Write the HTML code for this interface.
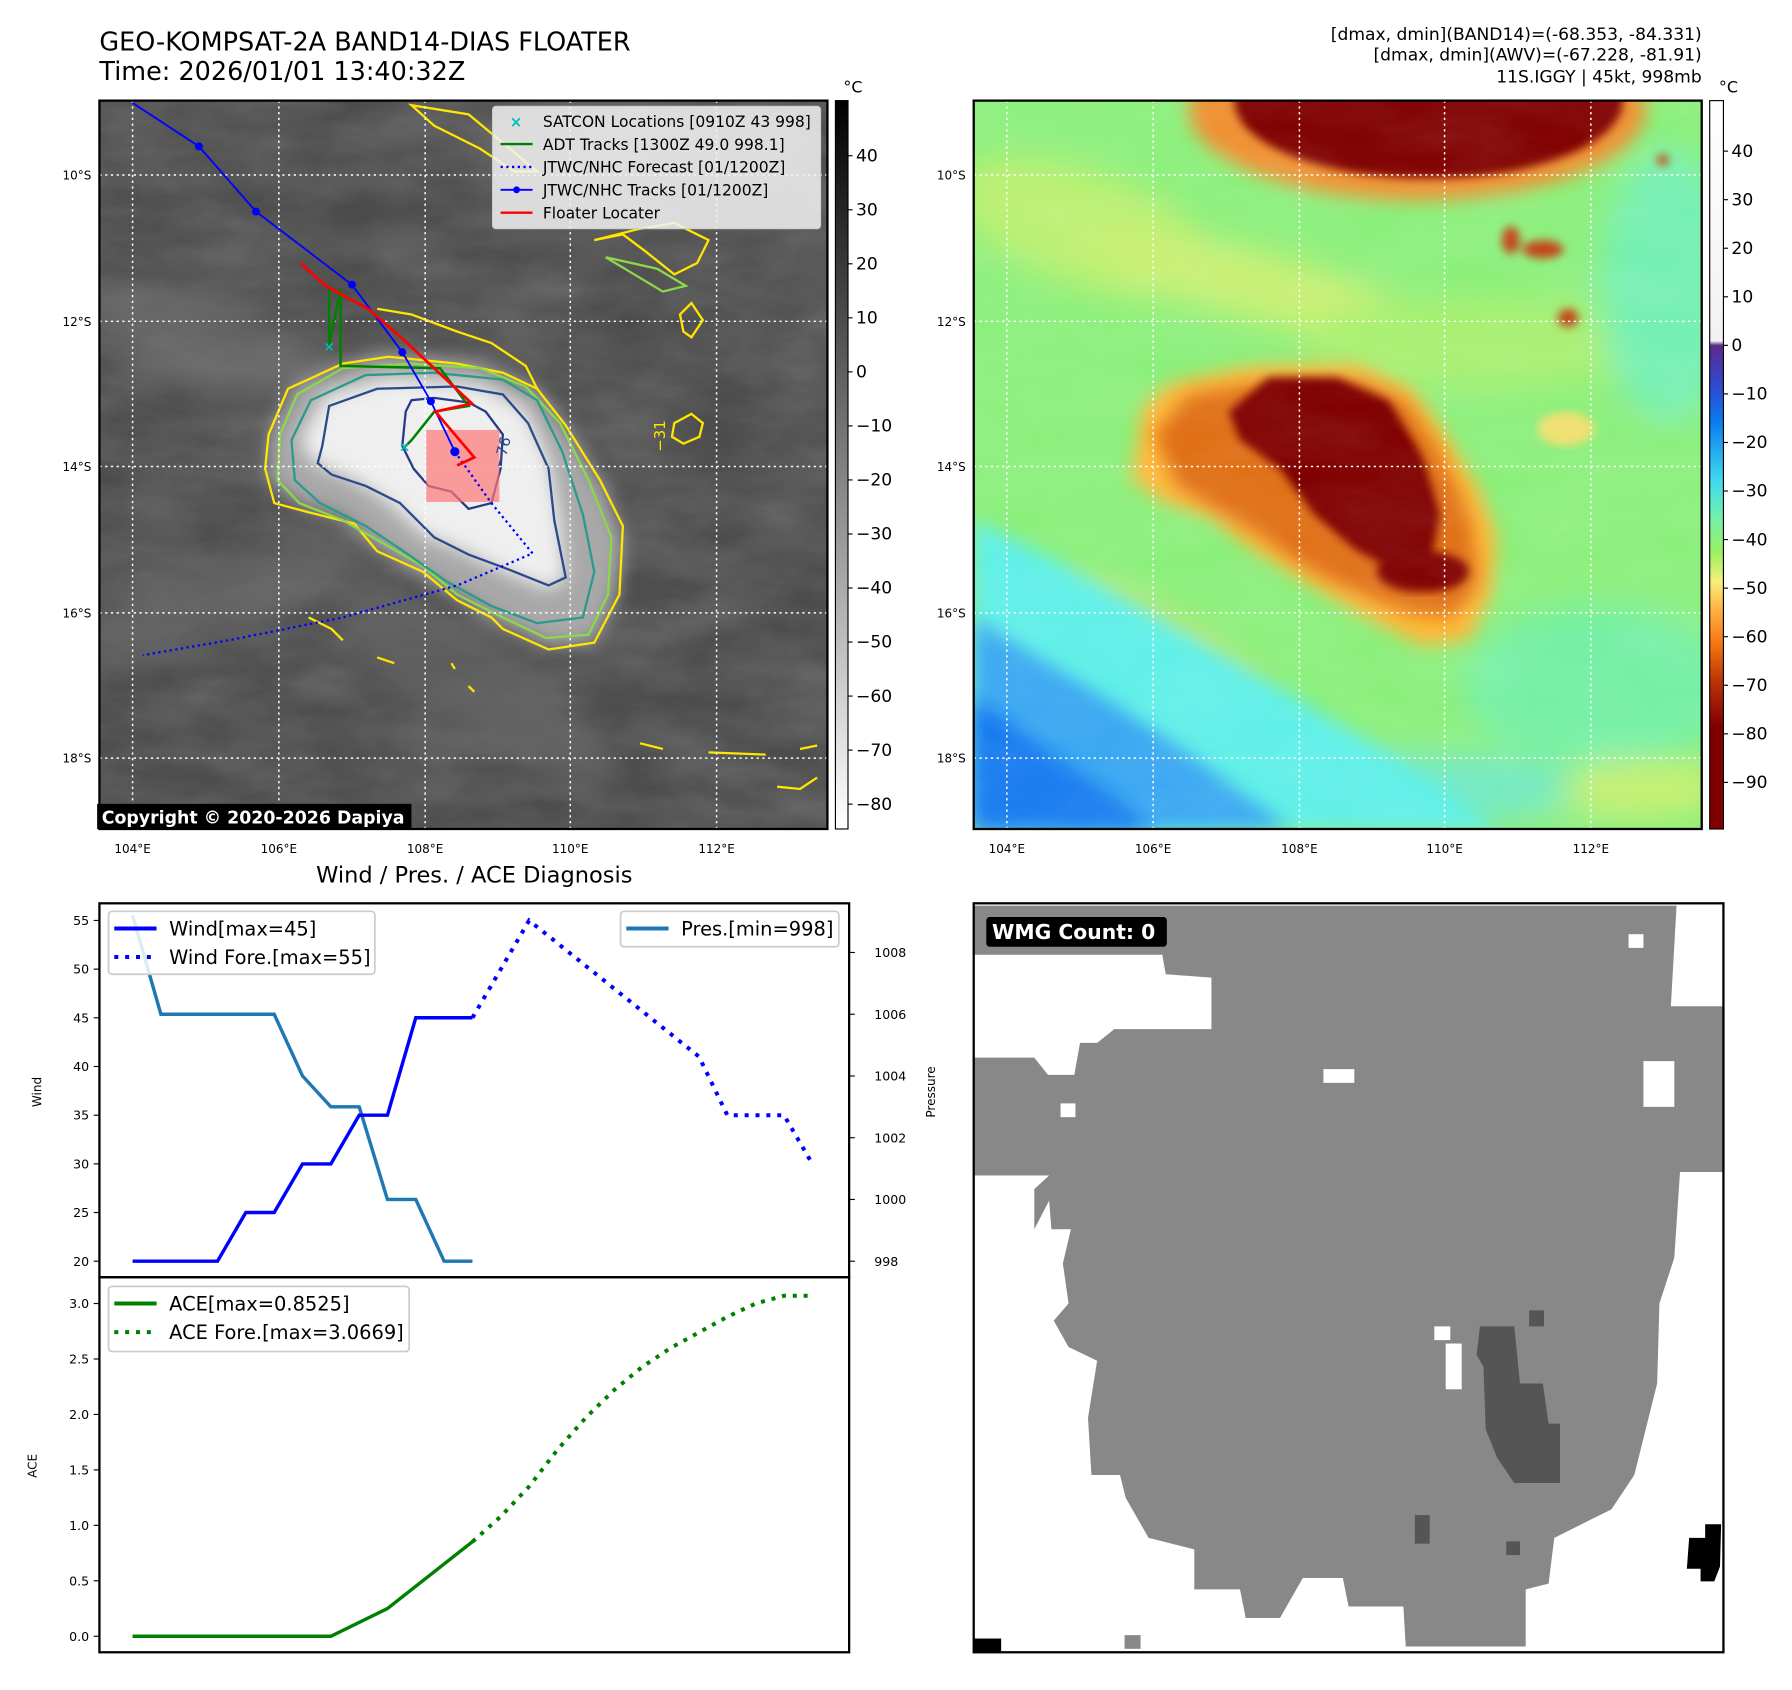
<!DOCTYPE html>
<html><head><meta charset="utf-8"><style>
html,body{margin:0;padding:0;background:#fff;}
svg{display:block;font-family:"DejaVu Sans","Liberation Sans",sans-serif;}
</style></head><body>
<svg id="root" width="1792" height="1690" viewBox="0 0 1568 1478" preserveAspectRatio="none" xmlns="http://www.w3.org/2000/svg">
<defs>
<filter id="b8"><feGaussianBlur stdDeviation="8"/></filter>
<filter id="b14"><feGaussianBlur stdDeviation="14"/></filter>
<filter id="b4"><feGaussianBlur stdDeviation="4"/></filter>
<filter id="noise" x="0" y="0" width="100%" height="100%"><feTurbulence type="fractalNoise" baseFrequency="0.012 0.03" numOctaves="4" seed="3"/><feColorMatrix type="matrix" values="0 0 0 0 1  0 0 0 0 1  0 0 0 0 1  0.6 0 0 0 -0.1"/></filter>
<clipPath id="clipL"><rect x="87" y="88" width="637" height="637"/></clipPath>
<clipPath id="clipR"><rect x="852" y="88" width="637" height="637"/></clipPath>
<linearGradient id="cbGray" x1="0" y1="0" x2="0" y2="1"><stop offset="0" stop-color="#000"/><stop offset="1" stop-color="#fff"/></linearGradient>
<linearGradient id="cbJet" x1="0" y1="0" x2="0" y2="1">
<stop offset="0" stop-color="#ffffff"/><stop offset="0.33" stop-color="#f2f2f2"/>
<stop offset="0.336" stop-color="#5b2a8c"/><stop offset="0.40" stop-color="#2a50d8"/>
<stop offset="0.44" stop-color="#0a7cf0"/><stop offset="0.52" stop-color="#3fd8f0"/>
<stop offset="0.57" stop-color="#70f0b0"/><stop offset="0.62" stop-color="#9cf060"/>
<stop offset="0.66" stop-color="#f6f07a"/><stop offset="0.70" stop-color="#ffb040"/>
<stop offset="0.75" stop-color="#f07010"/><stop offset="0.80" stop-color="#b83008"/>
<stop offset="0.86" stop-color="#800000"/><stop offset="1" stop-color="#800000"/></linearGradient>
</defs>

<text x="87" y="44" font-size="22.3">GEO-KOMPSAT-2A BAND14-DIAS FLOATER</text>
<text x="87" y="70" font-size="22.3">Time: 2026/01/01 13:40:32Z</text>
<g font-size="15" text-anchor="end">
<text x="1489" y="35">[dmax, dmin](BAND14)=(-68.353, -84.331)</text>
<text x="1489" y="53">[dmax, dmin](AWV)=(-67.228, -81.91)</text>
<text x="1489" y="72">11S.IGGY | 45kt, 998mb</text>
</g>

<!-- LEFT MAP -->
<g clip-path="url(#clipL)">
<rect x="87" y="88" width="637" height="637" fill="#4b4b4b"/>
<rect x="87" y="88" width="637" height="637" filter="url(#noise)" opacity="0.35"/>
<g filter="url(#b14)" opacity="0.6">
<ellipse cx="180" cy="300" rx="120" ry="40" fill="#777" transform="rotate(20 180 300)"/>
<ellipse cx="200" cy="520" rx="140" ry="35" fill="#6e6e6e" transform="rotate(-20 200 520)"/>
<ellipse cx="560" cy="130" rx="150" ry="40" fill="#777"/>
<ellipse cx="420" cy="600" rx="140" ry="40" fill="#6b6b6b" transform="rotate(35 420 600)"/>
</g>
<path d="M235,380 L260,335 L330,310 L420,318 L470,340 L500,380 L530,430 L545,470 L540,520 L520,562 L480,565 L430,540 L380,510 L330,480 L300,452 L260,440 L235,420 Z" fill="#a8a8a8" filter="url(#b8)"/>
<path d="M262,385 L285,345 L340,330 L420,336 L460,358 L480,400 L490,450 L495,508 L478,515 L440,500 L400,480 L370,468 L340,440 L310,420 L275,405 Z" fill="#efefef" filter="url(#b8)"/>
<g fill="none" stroke-width="2">
<path d="M235,380 L252,340 L300,318 L340,312 L400,318 L440,326 L470,340 L495,372 L525,420 L545,460 L542,520 L520,562 L480,568 L440,550 L430,540 L400,525 L370,500 L330,482 L310,458 L270,448 L240,440 L232,410 Z" stroke="#ffe600"/>
<path d="M245,380 L260,345 L300,322 L360,318 L420,322 L460,338 L490,370 L515,420 L535,470 L532,520 L515,555 L478,558 L440,540 L400,520 L370,495 L335,475 L300,455 L262,440 L243,420 Z" stroke="#8cd84a"/>
<path d="M255,385 L272,350 L320,328 L380,326 L440,332 L470,350 L492,395 L510,450 L520,500 L510,540 L470,545 L430,530 L390,508 L350,480 L320,460 L280,440 L258,420 Z" stroke="#2a9a8a"/>
<path d="M282,390 L288,355 L330,340 L400,338 L440,345 L462,370 L480,410 L485,455 L495,505 L480,512 L445,498 L410,485 L380,470 L350,440 L320,425 L290,415 L278,405 Z" stroke="#2a4a8a"/>
<path d="M355,360 L360,350 L380,348 L410,352 L425,360 L440,380 L438,410 L430,440 L410,445 L395,430 L375,425 L362,410 L352,390 Z" stroke="#2a3a88"/>
<path d="M360,92 L380,110 L420,130 L450,150 L470,150 L440,125 L410,100 Z" stroke="#ffe600"/>
<path d="M520,210 L545,205 L565,220 L590,240 L610,230 L620,210 L590,195 L560,200 Z" stroke="#ffe600"/>
<path d="M530,225 L555,240 L580,255 L600,250 L575,235 Z" stroke="#8cd84a"/>
<path d="M595,275 L605,265 L615,280 L605,295 L598,290 Z" stroke="#ffe600"/>
<path d="M590,370 L605,362 L615,370 L612,382 L598,388 L588,382 Z" stroke="#ffe600"/>
<path d="M330,270 L360,275 L400,290 L430,300 L460,320 L470,340" stroke="#ffe600"/>
<path d="M560,650 L580,655 M620,658 L670,660 M680,688 L700,690 L715,680 M700,655 L715,652 M270,540 L290,550 L300,560 M330,575 L345,580 M410,600 L415,605 M395,580 L398,585" stroke="#ffe600"/>
</g>
<g stroke="#fff" stroke-width="1.3" stroke-dasharray="2,3" fill="none">
<path d="M116,88V725M244,88V725M372,88V725M499,88V725M627,88V725"/>
<path d="M87,153H724M87,281H724M87,408H724M87,536H724M87,663H724"/>
</g>
<rect x="373" y="376" width="64" height="63" fill="#f77" opacity="0.7"/>
<polyline points="398,395 430,440 466,484 400,512 300,540 200,560 125,573" fill="none" stroke="#0000ff" stroke-width="2" stroke-dasharray="2,3"/>
<polyline points="288,253 288,302 298,253 298,320 385,322 410,355 380,360 360,385 353,392" fill="none" stroke="#008000" stroke-width="2.2"/>
<polyline points="116,90 174,128 224,185 308,249 352,308 377,351 398,395" fill="none" stroke="#0000ff" stroke-width="1.6"/>
<g fill="#0000ff"><circle cx="174" cy="128" r="3.5"/><circle cx="224" cy="185" r="3.5"/><circle cx="308" cy="249" r="3.5"/><circle cx="352" cy="308" r="3.5"/><circle cx="377" cy="351" r="3.5"/><circle cx="398" cy="395" r="4"/></g>
<polyline points="263,230 285,250 322,270 352,296 413,353 381,360 415,400 400,407" fill="none" stroke="#ff0000" stroke-width="2.4"/>
<g fill="#00bcbc" font-size="12" font-weight="bold"><text x="349" y="395">×</text><text x="283" y="307">×</text></g>
<text x="582" y="395" fill="#ffe600" font-size="13" transform="rotate(-90 582 395)">−31</text>
<text x="440" y="410" fill="#2a4a8a" font-size="13" transform="rotate(-75 440 410)">−76</text>
</g>
<rect x="87" y="88" width="637" height="637" fill="none" stroke="#000" stroke-width="2"/>
<rect x="85" y="703" width="275" height="22" fill="#000"/>
<text x="89" y="720" fill="#fff" font-size="15.2" font-weight="bold">Copyright © 2020-2026 Dapiya</text>
<g font-size="13.6">
<rect x="431" y="93" width="287" height="107" rx="3" fill="#f2f2f2" fill-opacity="0.85" stroke="#ccc"/>
<text x="446" y="111" fill="#00bcbc" font-weight="bold" font-size="13">×</text><text x="475" y="111">SATCON Locations [0910Z 43 998]</text>
<line x1="438" y1="126" x2="466" y2="126" stroke="#008000" stroke-width="2"/><text x="475" y="131">ADT Tracks [1300Z 49.0 998.1]</text>
<line x1="438" y1="146" x2="466" y2="146" stroke="#0000ff" stroke-width="2" stroke-dasharray="2,3"/><text x="475" y="151">JTWC/NHC Forecast [01/1200Z]</text>
<line x1="438" y1="166" x2="466" y2="166" stroke="#0000ff" stroke-width="1.6"/><circle cx="452" cy="166" r="3" fill="#0000ff"/><text x="475" y="171">JTWC/NHC Tracks [01/1200Z]</text>
<line x1="438" y1="186" x2="466" y2="186" stroke="#ff0000" stroke-width="2"/><text x="475" y="191">Floater Locater</text>
</g>
<g font-size="10.5">
<g text-anchor="end"><text x="80" y="157">10°S</text><text x="80" y="285">12°S</text><text x="80" y="412">14°S</text><text x="80" y="540">16°S</text><text x="80" y="667">18°S</text></g>
<g text-anchor="middle"><text x="116" y="746">104°E</text><text x="244" y="746">106°E</text><text x="372" y="746">108°E</text><text x="499" y="746">110°E</text><text x="627" y="746">112°E</text></g>
</g>
<rect x="731" y="88" width="11" height="637" fill="url(#cbGray)" stroke="#000" stroke-width="1"/>
<text x="738" y="81" font-size="14">°C</text>
<g id="cbTicksL"></g>

<!-- RIGHT MAP -->
<g clip-path="url(#clipR)">
<rect x="852" y="88" width="637" height="637" fill="#8cf07c"/>
<g filter="url(#b14)" opacity="0.8">
<ellipse cx="950" cy="200" rx="120" ry="50" fill="#c8f070" transform="rotate(20 950 200)"/>
<ellipse cx="1100" cy="250" rx="160" ry="30" fill="#d8f070" transform="rotate(15 1100 250)"/>
<ellipse cx="1300" cy="300" rx="160" ry="40" fill="#b0f070"/>
<ellipse cx="1460" cy="250" rx="60" ry="120" fill="#70f0c0"/>
<ellipse cx="1400" cy="600" rx="120" ry="70" fill="#70f0b0"/>
<ellipse cx="1260" cy="690" rx="120" ry="30" fill="#70e8d8"/>
<ellipse cx="1440" cy="690" rx="70" ry="25" fill="#d8f070"/>
<ellipse cx="1020" cy="560" rx="100" ry="20" fill="#e8e070" transform="rotate(30 1020 560)"/>
</g>
<path d="M852,455 C950,500 1050,560 1150,620 C1220,660 1280,700 1310,725 L852,725 Z" fill="#5ef0e8" filter="url(#b8)"/>
<path d="M852,540 C930,590 1020,640 1080,690 L1130,725 L852,725 Z" fill="#3aa8f2" filter="url(#b8)"/>
<path d="M852,610 C920,660 980,700 1010,725 L852,725 Z" fill="#167af0" filter="url(#b8)"/>
<path d="M1000,355 L1025,335 L1095,320 L1185,318 L1235,340 L1265,380 L1295,430 L1310,470 L1305,520 L1285,560 L1245,565 L1195,540 L1145,510 L1095,480 L1060,452 L1020,440 L990,420 Z" fill="#ffb838" filter="url(#b8)"/>
<path d="M1010,380 L1040,345 L1100,335 L1190,332 L1230,350 L1260,395 L1285,450 L1295,510 L1270,540 L1230,535 L1180,515 L1140,495 L1105,470 L1070,450 L1030,425 Z" fill="#e07018" filter="url(#b8)"/>
<path d="M1075,360 L1110,330 L1170,330 L1215,350 L1245,400 L1260,450 L1250,500 L1220,500 L1185,480 L1150,450 L1120,410 L1085,385 Z" fill="#800000" filter="url(#b4)"/>
<ellipse cx="1245" cy="500" rx="40" ry="18" fill="#800000" filter="url(#b4)"/>
<ellipse cx="1240" cy="95" rx="200" ry="80" fill="#f09030" filter="url(#b8)"/>
<ellipse cx="1250" cy="88" rx="170" ry="68" fill="#800000" filter="url(#b4)"/>
<g fill="#c04010" filter="url(#b4)"><ellipse cx="1322" cy="210" rx="8" ry="12"/><ellipse cx="1350" cy="218" rx="18" ry="8"/><ellipse cx="1372" cy="278" rx="9" ry="8"/><ellipse cx="1455" cy="140" rx="5" ry="5"/></g>
<ellipse cx="1370" cy="375" rx="25" ry="15" fill="#f0e070" filter="url(#b4)"/>
<rect x="852" y="88" width="637" height="637" filter="url(#noise)" opacity="0.18"/>
<g stroke="#fff" stroke-width="1.3" stroke-dasharray="2,3" fill="none">
<path d="M881,88V725M1009,88V725M1137,88V725M1264,88V725M1392,88V725"/>
<path d="M852,153H1489M852,281H1489M852,408H1489M852,536H1489M852,663H1489"/>
</g>
</g>
<rect x="852" y="88" width="637" height="637" fill="none" stroke="#000" stroke-width="2"/>
<g font-size="10.5">
<g text-anchor="end"><text x="845" y="157">10°S</text><text x="845" y="285">12°S</text><text x="845" y="412">14°S</text><text x="845" y="540">16°S</text><text x="845" y="667">18°S</text></g>
<g text-anchor="middle"><text x="881" y="746">104°E</text><text x="1009" y="746">106°E</text><text x="1137" y="746">108°E</text><text x="1264" y="746">110°E</text><text x="1392" y="746">112°E</text></g>
</g>
<rect x="1496" y="88" width="12" height="637" fill="url(#cbJet)" stroke="#000" stroke-width="1"/>
<text x="1504" y="81" font-size="14">°C</text>
<g id="cbTicksR"></g>

<!-- BOTTOM RIGHT MASK -->
<g>
<rect x="852" y="790" width="656" height="655" fill="#fff"/>
<path d="M852,792 L1467,792 L1462,880 L1508,880 L1508,1025 L1470,1025 L1465,1100 L1452,1140 L1450,1210 L1440,1250 L1430,1290 L1410,1320 L1360,1345 L1355,1385 L1335,1390 L1335,1440 L1230,1440 L1228,1405 L1180,1405 L1175,1380 L1140,1380 L1120,1415 L1090,1415 L1085,1390 L1045,1390 L1045,1355 L1005,1345 L985,1310 L980,1290 L955,1290 L952,1240 L960,1190 L935,1178 L922,1155 L935,1140 L930,1105 L937,1075 L920,1075 L918,1050 L905,1075 L905,1040 L918,1028 L852,1028 L852,925 L905,925 L917,940 L940,940 L945,912 L960,912 L975,900 L1060,900 L1060,855 L1020,852 L1017,835 L852,835 Z" fill="#888"/>
<rect x="1438" y="928" width="27" height="40" fill="#fff"/>
<rect x="1425" y="817" width="13" height="12" fill="#fff"/>
<rect x="928" y="965" width="13" height="12" fill="#fff"/>
<rect x="1158" y="935" width="27" height="12" fill="#fff"/>
<rect x="1255" y="1160" width="14" height="12" fill="#fff"/>
<rect x="1265" y="1175" width="14" height="40" fill="#fff"/>
<path d="M1295,1160 L1325,1160 L1330,1210 L1350,1210 L1355,1245 L1365,1245 L1365,1297 L1325,1297 L1310,1275 L1300,1250 L1298,1195 L1292,1185 Z" fill="#555"/>
<rect x="1338" y="1146" width="13" height="14" fill="#555"/>
<rect x="1238" y="1325" width="13" height="25" fill="#555"/>
<rect x="1318" y="1348" width="12" height="12" fill="#555"/>
<rect x="984" y="1430" width="14" height="12" fill="#888"/>
<rect x="852" y="1433" width="24" height="12" fill="#000"/>
<path d="M1492,1333 L1506,1333 L1505,1370 L1500,1383 L1488,1383 L1488,1372 L1476,1372 L1478,1345 L1492,1345 Z" fill="#000"/>
</g>
<rect x="852" y="790" width="656" height="655" fill="none" stroke="#000" stroke-width="2"/>
<rect x="863" y="802" width="158" height="26" rx="3" fill="#000"/>
<text x="868" y="821" fill="#fff" font-size="17.8" font-weight="bold">WMG Count: 0</text>

<!-- BOTTOM LEFT CHART -->
<text x="415" y="772" font-size="19.7" text-anchor="middle">Wind / Pres. / ACE Diagnosis</text>
<g id="chart"></g>
</svg>

<script>
// ---- chart data ----
const windTimes = [0,3,4,5,6,7,8,9,10,12];
const windVals = [20,20,25,25,30,30,35,35,45,45];
const windForeTimes = [12,14,20,21,23,24];
const windForeVals = [45,55,41,35,35,30];
const presTimes = [0,1,2,3,4,5,6,7,8,9,10,11,12];
const presVals = [1009.2,1006,1006,1006,1006,1006,1004,1003,1003,1000,1000,998,998];
const aceTimes = [0,7,9,12];
const aceVals = [0,0,0.25,0.8525];
const aceForeTimes = [12,13,14,15,16,17,18,19,20,21,22,23,24];
const aceForeVals = [0.8525,1.08,1.35,1.68,1.97,2.22,2.43,2.6,2.74,2.88,3.0,3.07,3.07];
const windTicks = [20,25,30,35,40,45,50,55];
const presTicks = [998,1000,1002,1004,1006,1008];
const aceTicks = [0.0,0.5,1.0,1.5,2.0,2.5,3.0];
const grayCbTicks = [40,30,20,10,0,-10,-20,-30,-40,-50,-60,-70,-80];
const jetCbTicks = [40,30,20,10,0,-10,-20,-30,-40,-50,-60,-70,-80,-90];

const NS='http://www.w3.org/2000/svg';
function mk(tag, attrs, parent){const e=document.createElementNS(NS,tag);for(const k in attrs)e.setAttribute(k,attrs[k]);parent.appendChild(e);return e;}
const chart=document.getElementById('chart');
const X0=87,X1=743;
const tMin=-1.17,tMax=25.3;
const xS=t=>X0+(t-tMin)/(tMax-tMin)*(X1-X0);
const yWind=v=>1103-(v-20)*(1103-805)/35;
const yPres=v=>1103-(v-998)*27;
const yAce=v=>1431-v*97;
const txt=(x,y,s,p,anchor,size)=>{const t=mk('text',{x:x,y:y,'font-size':size||11,'text-anchor':anchor||'end'},p);t.textContent=s;return t;};
function line(ts,vs,ys,color,w,dash,name){
  const pts=ts.map((t,i)=>xS(t).toFixed(1)+','+ys(vs[i]).toFixed(1)).join(' ');
  const el=mk('polyline',{points:pts,fill:'none',stroke:color,'stroke-width':w},chart);
  if(dash)el.setAttribute('stroke-dasharray',dash);
  
  
}
mk('rect',{x:X0,y:790,width:X1-X0,height:327,fill:'none',stroke:'#000','stroke-width':2},chart);
mk('rect',{x:X0,y:1117,width:X1-X0,height:328,fill:'none',stroke:'#000','stroke-width':2},chart);
windTicks.forEach(v=>{const y=yWind(v);mk('line',{x1:X0-5,x2:X0,y1:y,y2:y,stroke:'#000'},chart);txt(X0-9,y+4,String(v),chart);});
presTicks.forEach(v=>{const y=yPres(v);mk('line',{x1:X1,x2:X1+5,y1:y,y2:y,stroke:'#000'},chart);txt(X1+22,y+4,String(v),chart,'start');});
aceTicks.forEach(v=>{const y=yAce(v);mk('line',{x1:X0-5,x2:X0,y1:y,y2:y,stroke:'#000'},chart);txt(X0-9,y+4,v.toFixed(1),chart);});
const wl=txt(36,955,'Wind',chart,'middle',10.5);wl.setAttribute('transform','rotate(-90 36 955)');


const pl=txt(818,955,'Pressure',chart,'middle',10.5);pl.setAttribute('transform','rotate(-90 818 955)');


const al=txt(32,1282,'ACE',chart,'middle',10.5);al.setAttribute('transform','rotate(-90 32 1282)');



line(presTimes,presVals,yPres,'#1f77b4',3,null,'pressure-line');
line(windTimes,windVals,yWind,'#0000ff',3,null,'wind-line');
line(windForeTimes,windForeVals,yWind,'#0000ff',3.5,'3.5,6','wind-forecast-line');
line(aceTimes,aceVals,yAce,'#008000',3,null,'ace-line');
line(aceForeTimes,aceForeVals,yAce,'#008000',3.5,'3.5,6','ace-forecast-line');

function legend(x,y,w,h,items,name){
  const g=mk('g',{},chart);
  
  
  mk('rect',{x:x,y:y,width:w,height:h,rx:3,fill:'#fff','fill-opacity':0.85,stroke:'#ccc','stroke-width':1.5},g);
  items.forEach((it,i)=>{const yy=y+15+i*25;
    const l=mk('line',{x1:x+5,x2:x+42,y1:yy,y2:yy,stroke:it[1],'stroke-width':3.5},g);
    if(it[2])l.setAttribute('stroke-dasharray','3.5,6');
    txt(x+53,yy+6,it[0],g,'start',17);});
}
legend(95,797,233,55,[['Wind[max=45]','#0000ff',false],['Wind Fore.[max=55]','#0000ff',true]],'wind-legend');
legend(543,797,191,31,[['Pres.[min=998]','#1f77b4',false]],'pressure-legend');
legend(95,1125,263,57,[['ACE[max=0.8525]','#008000',false],['ACE Fore.[max=3.0669]','#008000',true]],'ace-legend');

const gL=document.getElementById('cbTicksL');
grayCbTicks.forEach(v=>{const y=725-(v+84.6)*(637/134.8);mk('line',{x1:742,x2:746,y1:y,y2:y,stroke:'#000'},gL);txt(749,y+5,(v<0?'−'+(-v):String(v)),gL,'start',15);});
const gR=document.getElementById('cbTicksR');
jetCbTicks.forEach(v=>{const y=725-(v+99.6)*(637/150);mk('line',{x1:1508,x2:1512,y1:y,y2:y,stroke:'#000'},gR);txt(1515,y+5,(v<0?'−'+(-v):String(v)),gR,'start',15);});
</script>
</body></html>
